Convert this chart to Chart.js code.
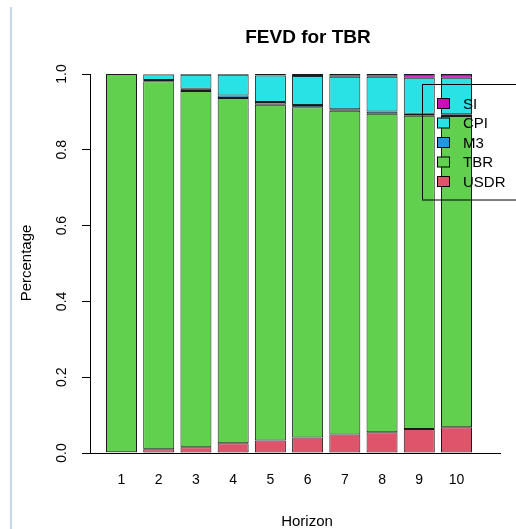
<!DOCTYPE html>
<html>
<head>
<meta charset="utf-8">
<script src="https://cdn.jsdelivr.net/npm/chart.js@4.4.1/dist/chart.umd.min.js"></script>
<style>
  html, body { margin: 0; padding: 0; background: #ffffff; }
  #c { display: block; }
</style>
</head>
<body>
<canvas id="c" width="516" height="529"></canvas>
<script>
// ---- data ----
const horizons = [1, 2, 3, 4, 5, 6, 7, 8, 9, 10];
const tickLabels = ['1', '2', '3', '4', '5', '6', '7', '8', '9', '10'];
const yTicks = [0, 0.2, 0.4, 0.6, 0.8, 1.0];
const USDR = [0.002, 0.010, 0.015, 0.026, 0.033, 0.041, 0.049, 0.055, 0.063, 0.068];
const TBR  = [0.998, 0.971, 0.940, 0.911, 0.886, 0.871, 0.854, 0.840, 0.827, 0.821];
const M3   = [0.000, 0.003, 0.006, 0.006, 0.007, 0.006, 0.004, 0.006, 0.005, 0.005];
const CPI  = [0.000, 0.015, 0.037, 0.055, 0.070, 0.077, 0.086, 0.092, 0.095, 0.096];
const SI   = [0.000, 0.001, 0.002, 0.002, 0.004, 0.005, 0.007, 0.007, 0.010, 0.010];
const seriesNames = ['USDR', 'TBR', 'M3', 'CPI', 'SI'];
const seriesColors = ['#DF536B', '#61D04F', '#2297E6', '#28E2E5', '#CD0BBC'];
const titleText = 'FEVD for TBR';
const xTitle = 'Horizon';
const yTitle = 'Percentage';

const seriesValues = [USDR, TBR, M3, CPI, SI];
const FONT = '"Liberation Sans", Arial, Helvetica, sans-serif';

const datasets = seriesNames.map((name, i) => ({
  label: name,
  data: horizons.map((h, j) => ({ x: h, y: seriesValues[i][j] })),
  backgroundColor: seriesColors[i],
  borderColor: '#1a1a1a',
  borderWidth: 1,
  borderSkipped: false,
  barPercentage: 0.833,
  categoryPercentage: 1.0
}));

const decorPlugin = {
  id: 'decor',
  afterDraw(chart) {
    const ctx = chart.ctx;
    ctx.save();
    // light blue frame line on the left of the screenshot
    ctx.strokeStyle = '#c3d7ef';
    ctx.lineWidth = 2;
    ctx.beginPath();
    ctx.moveTo(11, 7);
    ctx.lineTo(11, 529);
    ctx.stroke();

    // title
    ctx.fillStyle = '#000000';
    ctx.font = 'bold 19px ' + FONT;
    ctx.textAlign = 'center';
    ctx.textBaseline = 'alphabetic';
    ctx.fillText(titleText, 308, 43);

    // x axis title
    ctx.font = '15px ' + FONT;
    ctx.fillStyle = '#000000';
    ctx.fillText(xTitle, 307, 526);

    // y axis title
    ctx.save();
    ctx.translate(27, 263);
    ctx.rotate(-Math.PI / 2);
    ctx.textAlign = 'center';
    ctx.textBaseline = 'middle';
    ctx.fillText(yTitle, 0, 0);
    ctx.restore();

    // legend (transparent background, black box)
    const lx = 422.5, ly = 84.5, lw = 110, lh = 115.5;
    ctx.strokeStyle = '#000000';
    ctx.lineWidth = 1;
    ctx.strokeRect(lx, ly, lw, lh);
    const ds = chart.data.datasets.slice().reverse();
    ctx.font = '15px ' + FONT;
    ctx.textAlign = 'left';
    ctx.textBaseline = 'middle';
    ds.forEach((d, i) => {
      const cy = 103.5 + i * 19.5;
      ctx.fillStyle = d.backgroundColor;
      ctx.fillRect(437.5, cy - 5, 12, 10);
      ctx.strokeRect(437.5, cy - 5, 12, 10);
      ctx.fillStyle = '#000000';
      ctx.fillText(d.label, 463, cy + 1);
    });
    ctx.restore();
  }
};

new Chart(document.getElementById('c'), {
  type: 'bar',
  data: { datasets },
  plugins: [decorPlugin],
  options: {
    responsive: false,
    animation: false,
    layout: { padding: { left: 0, top: 74, right: 16, bottom: 0 } },
    plugins: {
      legend: { display: false },
      title: { display: false },
      tooltip: { enabled: false }
    },
    scales: {
      x: {
        type: 'linear',
        stacked: true,
        offset: false,
        min: 0.1537,
        max: 11.169,
        afterFit(s) { s.height = 76; },
        afterBuildTicks(s) { s.ticks = horizons.map(v => ({ value: v })); },
        grid: { display: false, drawTicks: false },
        border: { display: true, color: '#000000', width: 1 },
        ticks: {
          padding: 19,
          color: '#000000',
          font: { family: FONT, size: 14 },
          maxRotation: 0,
          autoSkip: false,
          callback: (v) => tickLabels[horizons.indexOf(v)] ?? ''
        }
      },
      y: {
        stacked: true,
        min: 0,
        max: 1,
        afterFit(s) { s.width = 90; },
        afterBuildTicks(s) { s.ticks = yTicks.map(v => ({ value: v })); },
        grid: { drawOnChartArea: false, drawTicks: true, tickLength: 8, color: '#000000', lineWidth: 1 },
        border: { display: true, color: '#000000', width: 1 },
        ticks: {
          padding: 10,
          color: '#000000',
          crossAlign: 'center',
          minRotation: 90,
          maxRotation: 90,
          font: { family: FONT, size: 14 },
          callback: (v) => Number(v).toFixed(1)
        }
      }
    }
  }
});
</script>
</body>
</html>
